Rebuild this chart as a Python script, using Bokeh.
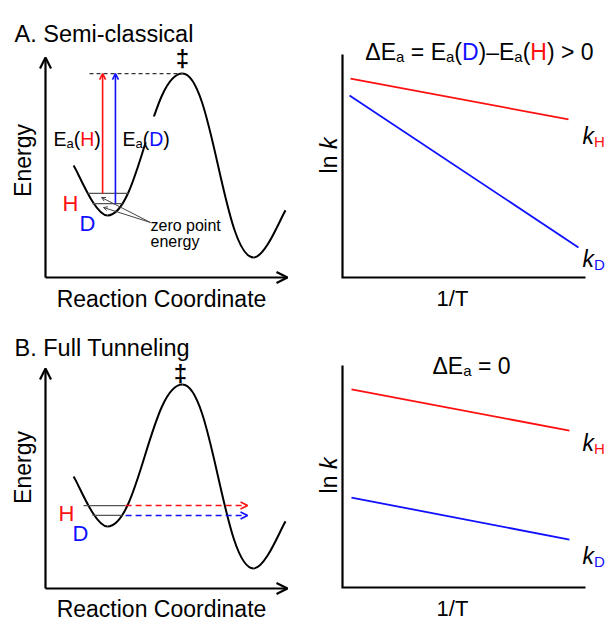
import math
from bokeh.plotting import figure
from bokeh.layouts import column, row
from bokeh.models import Arrow, OpenHead, Range1d
from bokeh.core.properties import value
from bokeh.embed import file_html
from bokeh.resources import INLINE

# ------------------------------------------------------------------ data
# potential-energy profile extrema: start, reactant well, TS (‡), product well, end
profile_x = [1.16, 2.56, 5.66, 8.60, 9.92]
profile_y = [5.09, 2.82, 9.27, 0.91, 3.05]

isotopes = ["H", "D"]

# panel A (semi-classical): zero-point levels and activation arrows
a_level_y = [3.82, 3.36]
a_level_x0 = [1.74, 1.94]
a_level_x1 = [3.43, 3.18]
a_arrow_x = [2.36, 2.89]
a_dash_x0 = 1.82

# panel B (full tunneling): zero-point levels and tunnelling arrows
b_level_y = [3.77, 3.32]
b_level_x0 = [1.57, 1.94]
b_level_x1 = [3.31, 3.18]
b_tunnel_x1 = [8.35, 8.35]

# Arrhenius plots (1/T, ln k)
a_invT_H = [0.33, 9.30]
a_lnk_H = [8.92, 7.09]
a_invT_D = [0.29, 9.71]
a_lnk_D = [8.16, 1.35]
b_invT_H = [0.37, 9.34]
b_lnk_H = [8.92, 7.07]
b_invT_D = [0.37, 9.34]
b_lnk_D = [4.05, 2.16]

# ------------------------------------------------------------------ style
FONT = "Liberation Sans"
RED = "#ff1010"
BLUE = "#1010ff"
ISO_COL = [RED, BLUE]

W = {' ': 278, '(': 333, ')': 333, '–': 556, '=': 584, '>': 584, '0': 556, '1': 556,
     '/': 278, '.': 278, '-': 333, 'A': 667, 'B': 667, 'C': 722, 'D': 722, 'E': 667,
     'F': 611, 'H': 722, 'R': 722, 'S': 667, 'T': 611, 'a': 556, 'c': 500, 'e': 556,
     'g': 556, 'i': 222, 'k': 500, 'l': 222, 'm': 833, 'n': 556, 'o': 556, 'p': 556,
     'r': 333, 's': 500, 't': 278, 'u': 556, 'y': 500, 'z': 500, 'Δ': 668}


def tw(s, size):
    return sum(W.get(c, 556) for c in s) * size / 1000.0


class Panel:
    def __init__(self, w, h, ox, oy, xe, yt):
        self.ox, self.oy = ox, oy
        self.sx = (xe - ox) / 10.0
        self.sy = (oy - yt) / 10.0
        p = figure(width=w, height=h,
                   x_range=Range1d(-ox / self.sx, (w - ox) / self.sx),
                   y_range=Range1d(-(h - oy) / self.sy, oy / self.sy),
                   output_backend="svg", toolbar_location=None, min_border=0,
                   x_axis_location=None, y_axis_location=None, title_location=None,
                   outline_line_color=None, background_fill_color="white",
                   border_fill_color="white")
        for g in p.grid:
            g.visible = False
        self.p = p

    def d(self, fx, fy):
        return (fx - self.ox) / self.sx, (self.oy - fy) / self.sy

    def text(self, fx, fy, s, size, color="black", align="left", baseline="alphabetic",
             angle=0.0, style="normal"):
        x, y = self.d(fx, fy)
        self.p.text(x=[x], y=[y], text=[s], text_font=value(FONT),
                    text_font_size=value(f"{size}px"), text_color=color,
                    text_align=align, text_baseline=baseline, angle=angle,
                    text_font_style=style)

    def runs(self, fx, fy, items, align="left"):
        # items: (text, color, size, dy, style); leading spaces become advances
        total = sum(tw(t, s) for t, c, s, dy, st in items)
        x = fx - total / 2.0 if align == "center" else fx
        for t, c, s, dy, st in items:
            body = t.lstrip(" ")
            x += tw(t[:len(t) - len(body)], s)
            self.text(x, fy + dy, body, s, color=c, style=st)
            x += tw(body, s)

    def axes(self, arrows):
        p = self.p
        if arrows:
            for (x1, y1) in [(0, 10), (10, 0)]:
                p.add_layout(Arrow(x_start=0, y_start=0, x_end=x1, y_end=y1,
                                   line_color="black", line_width=2.2,
                                   end=OpenHead(size=11, line_color="black", line_width=2.2)))
        else:
            p.line(x=[0, 0, 10], y=[10, 0, 0], line_color="black", line_width=2.2,
                   line_join="miter")


def draw_profile(pn):
    xs, ys = profile_x, profile_y
    a, b, c, k = 0.15, 0.15, 0.37, 0.42
    x0s, y0s, x1s, y1s, c0x, c0y, c1x, c1y = [], [], [], [], [], [], [], []
    for i in range(4):
        xa, ya, xb, yb = xs[i], ys[i], xs[i + 1], ys[i + 1]
        dx, dy = xb - xa, yb - ya
        if i == 0:
            p1 = (xa + a * dx, ya + b * dy)
            p2 = (xb - c * dx, yb)
        elif i == 3:
            p1 = (xa + c * dx, ya)
            p2 = (xb - a * dx, yb - b * dy)
        else:
            p1 = (xa + k * dx, ya)
            p2 = (xb - k * dx, yb)
        x0s.append(xa); y0s.append(ya); x1s.append(xb); y1s.append(yb)
        c0x.append(p1[0]); c0y.append(p1[1]); c1x.append(p2[0]); c1y.append(p2[1])
    pn.p.bezier(x0=x0s, y0=y0s, x1=x1s, y1=y1s, cx0=c0x, cy0=c0y, cx1=c1x, cy1=c1y,
                line_color="black", line_width=2)


# ------------------------------------------------------------------ panel A left
A = Panel(303, 310, 45, 277, 287, 57)
A.axes(True)
draw_profile(A)
pA = A.p
# white mask where the E_a(D) label sits on the curve
mx0, my0 = A.d(121, 116)
mx1, my1 = A.d(171, 142)
pA.quad(left=[mx0], right=[mx1], top=[my0], bottom=[my1], fill_color="white",
        line_color=None)
# barrier level (dashed)
pA.line(x=[a_dash_x0, profile_x[2]], y=[profile_y[2], profile_y[2]], line_color="#333333",
        line_width=1.2, line_dash="4 3")
# zero-point levels
pA.segment(x0=a_level_x0, y0=a_level_y, x1=a_level_x1, y1=a_level_y,
           line_color="#555555", line_width=1.3)
# activation arrows
for i in range(2):
    pA.add_layout(Arrow(x_start=a_arrow_x[i], y_start=a_level_y[i], x_end=a_arrow_x[i],
                        y_end=profile_y[2], line_color=ISO_COL[i], line_width=1.6,
                        end=OpenHead(size=6, line_color=ISO_COL[i], line_width=1.6)))
# zero point energy pointers
tx, ty = A.d(150, 222)
for hx, hy in [A.d(101, 197), A.d(103, 207)]:
    pA.add_layout(Arrow(x_start=tx, y_start=ty, x_end=hx, y_end=hy, line_color="#444444",
                        line_width=1, end=OpenHead(size=4, line_color="#444444",
                                                    line_width=1)))
A.text(14, 33, "A. Semi-classical", 23.5)
A.text(182, 58, "‡", 24, align="center", baseline="middle", style="bold")
A.text(22, 160, "Energy", 23, align="center", baseline="middle", angle=math.pi / 2)
A.text(161, 298, "Reaction Coordinate", 23, align="center")
A.runs(53, 138, [("E", "black", 19.5, 0, "normal"), ("a", "black", 13, 5, "normal"),
                 ("(", "black", 19.5, 0, "normal"), ("H", RED, 19.5, 0, "normal"),
                 (")", "black", 19.5, 0, "normal")])
A.runs(122, 138, [("E", "black", 19.5, 0, "normal"), ("a", "black", 13, 5, "normal"),
                  ("(", "black", 19.5, 0, "normal"), ("D", BLUE, 19.5, 0, "normal"),
                  (")", "black", 19.5, 0, "normal")])
A.text(62, 203, isotopes[0], 22, color=RED)
A.text(79, 223, isotopes[1], 22, color=BLUE)
A.text(150, 225, "zero point", 16)
A.text(150, 241, "energy", 16)

# ------------------------------------------------------------------ panel A right
A2 = Panel(303, 310, 39, 277, 282, 54)
A2.axes(False)
pA2 = A2.p
pA2.line(x=a_invT_H, y=a_lnk_H, line_color=RED, line_width=1.8)
pA2.line(x=a_invT_D, y=a_lnk_D, line_color=BLUE, line_width=1.8)
A2.runs(176, 51, [("ΔE", "black", 23, 0, "normal"), ("a", "black", 15, 5, "normal"),
                  (" = E", "black", 23, 0, "normal"), ("a", "black", 15, 5, "normal"),
                  ("(", "black", 23, 0, "normal"), ("D", BLUE, 23, 0, "normal"),
                  (")–E", "black", 23, 0, "normal"), ("a", "black", 15, 5, "normal"),
                  ("(", "black", 23, 0, "normal"), ("H", RED, 23, 0, "normal"),
                  (") > 0", "black", 23, 0, "normal")], align="center")


def lnk_label(pn, cy):
    w1, w2 = tw("ln ", 23), tw("k", 23)
    y0 = cy + (w1 + w2) / 2.0
    pn.text(25, y0, "ln", 23, baseline="middle", angle=math.pi / 2)
    pn.text(25, y0 - w1, "k", 23, baseline="middle", angle=math.pi / 2, style="italic")


def k_label(pn, fx, fy, iso, col):
    pn.text(fx, fy, "k", 23, style="italic")
    pn.text(fx + tw("k", 23), fy + 6, iso, 15, color=col)


lnk_label(A2, 155)
A2.text(149, 298, "1/T", 22, align="center")
k_label(A2, 279, 135, isotopes[0], RED)
k_label(A2, 279, 258, isotopes[1], BLUE)

# ------------------------------------------------------------------ panel B left
B = Panel(303, 311, 45, 278, 287, 58)
B.axes(True)
draw_profile(B)
pB = B.p
pB.segment(x0=b_level_x0, y0=b_level_y, x1=b_level_x1, y1=b_level_y,
           line_color="#555555", line_width=1.3)
for i in range(2):
    pB.add_layout(Arrow(x_start=b_level_x1[0], y_start=b_level_y[i], x_end=b_tunnel_x1[i],
                        y_end=b_level_y[i], line_color=ISO_COL[i], line_width=1.6,
                        line_dash="6 4",
                        end=OpenHead(size=7, line_color=ISO_COL[i], line_width=1.6)))
B.text(14, 37, "B. Full Tunneling", 23.5)
B.text(180, 63, "‡", 24, align="center", baseline="middle", style="bold")
B.text(22, 157, "Energy", 23, align="center", baseline="middle", angle=math.pi / 2)
B.text(161, 298, "Reaction Coordinate", 23, align="center")
B.text(58, 203, isotopes[0], 22, color=RED)
B.text(72, 223, isotopes[1], 22, color=BLUE)

# ------------------------------------------------------------------ panel B right
B2 = Panel(303, 311, 39, 277, 282, 55)
B2.axes(False)
pB2 = B2.p
pB2.line(x=b_invT_H, y=b_lnk_H, line_color=RED, line_width=1.8)
pB2.line(x=b_invT_D, y=b_lnk_D, line_color=BLUE, line_width=1.8)
B2.runs(168, 55, [("ΔE", "black", 23, 0, "normal"), ("a", "black", 15, 5, "normal"),
                  (" = 0", "black", 23, 0, "normal")], align="center")
lnk_label(B2, 165)
B2.text(149, 298, "1/T", 22, align="center")
k_label(B2, 279, 132, isotopes[0], RED)
k_label(B2, 279, 245, isotopes[1], BLUE)

layout = column(row(pA, pA2), row(pB, pB2))
open("out.html", "w").write(file_html(layout, INLINE))
